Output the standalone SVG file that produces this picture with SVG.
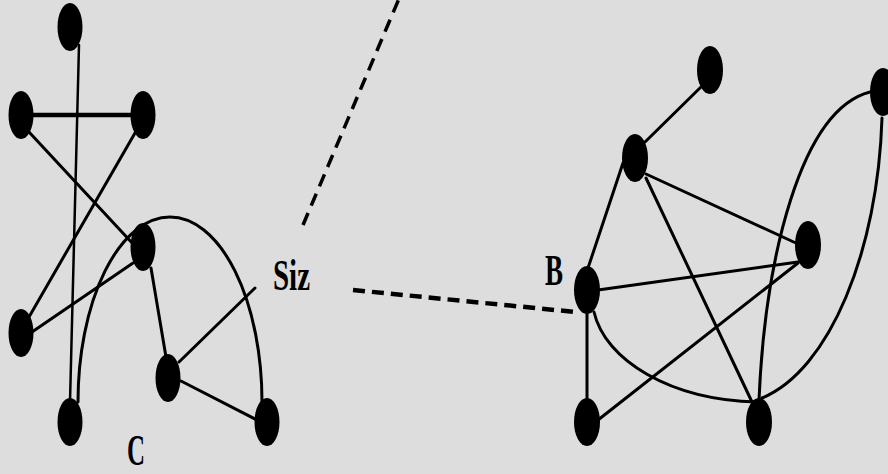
<svg xmlns="http://www.w3.org/2000/svg" width="888" height="474" viewBox="0 0 888 474">
<style>
.bg{fill:#dddddd}
.node{fill:#000}
.edge{stroke:#000;stroke-width:3;fill:none;stroke-linecap:round}
.dash{stroke:#000;stroke-width:3.5;fill:none;stroke-dasharray:13 8}
.lbl{font-family:"Liberation Serif","Times New Roman",serif;font-weight:bold;font-size:44px;fill:#000}
</style>
<rect class="bg" x="0" y="0" width="888" height="474"/>
<g id="connectors">
  <!-- left graph -->
  <line class="edge" x1="79" y1="45" x2="70" y2="402" style="stroke-width:2.5"/>
  <line class="edge" x1="30" y1="115" x2="132" y2="115" style="stroke-width:4.5"/>
  <line class="edge" x1="29" y1="132" x2="134" y2="245"/>
  <line class="edge" x1="135" y1="133" x2="29" y2="317"/>
  <line class="edge" x1="133" y1="263" x2="32" y2="332"/>
  <path class="edge" d="M78 402 A92 185 0 0 1 262 402"/>
  <line class="edge" x1="151" y1="268" x2="166" y2="357"/>
  <line class="edge" x1="179" y1="362" x2="255" y2="288"/>
  <line class="edge" x1="181" y1="381" x2="257" y2="420"/>
  <!-- dashed -->
  <line class="dash" x1="303" y1="225" x2="401" y2="-6"/>
  <line class="dash" x1="353" y1="290" x2="575" y2="312" style="stroke-width:4.5;stroke-dasharray:12 7"/>
  <!-- right graph -->
  <line class="edge" x1="702" y1="86" x2="645" y2="142"/>
  <line class="edge" x1="623" y1="163" x2="588" y2="268"/>
  <line class="edge" x1="646" y1="174" x2="798" y2="244"/>
  <line class="edge" x1="646" y1="178" x2="752" y2="402"/>
  <line class="edge" x1="598" y1="290" x2="798" y2="262"/>
  <line class="edge" x1="598" y1="420" x2="798" y2="263"/>
  <line class="edge" x1="587" y1="310" x2="587" y2="402"/>
  <path class="edge" d="M594 312 C605 360 670 400 757 402"/>
  <path class="edge" d="M759 400 C765 260 800 110 870 92"/>
  <path class="edge" d="M882 118 C878 250 830 370 762 398"/>
</g>
<g id="n1"><ellipse class="node" cx="70" cy="27" rx="12.5" ry="24"/></g>
<g id="n2"><ellipse class="node" cx="21" cy="115" rx="12.5" ry="24"/></g>
<g id="n3"><ellipse class="node" cx="143" cy="115" rx="12.5" ry="24"/></g>
<g id="n4"><ellipse class="node" cx="143" cy="247" rx="12.5" ry="24"/></g>
<g id="n5"><ellipse class="node" cx="21" cy="333" rx="12.5" ry="24"/></g>
<g id="n6"><ellipse class="node" cx="70" cy="422" rx="12.5" ry="24"/></g>
<g id="n7"><ellipse class="node" cx="168" cy="378" rx="12.5" ry="24"/></g>
<g id="n8"><ellipse class="node" cx="267" cy="422" rx="12.5" ry="24"/></g>
<g id="r1"><ellipse class="node" cx="710" cy="70" rx="13" ry="24"/></g>
<g id="r2"><ellipse class="node" cx="635" cy="158" rx="13" ry="24"/></g>
<g id="r3"><ellipse class="node" cx="883" cy="92" rx="13" ry="24"/></g>
<g id="r4"><ellipse class="node" cx="808" cy="245" rx="13" ry="24"/></g>
<g id="rB"><ellipse class="node" cx="587" cy="290" rx="13" ry="24"/></g>
<g id="r6"><ellipse class="node" cx="587" cy="422" rx="13" ry="24"/></g>
<g id="r7"><ellipse class="node" cx="759" cy="422" rx="13" ry="24"/></g>
<g id="labels">
  <text class="lbl" x="273" y="290" textLength="37" lengthAdjust="spacingAndGlyphs">Siz</text>
  <text class="lbl" x="545" y="285" textLength="18" lengthAdjust="spacingAndGlyphs">B</text>
  <text class="lbl" x="127" y="465" textLength="18" lengthAdjust="spacingAndGlyphs">C</text>
</g>
</svg>
